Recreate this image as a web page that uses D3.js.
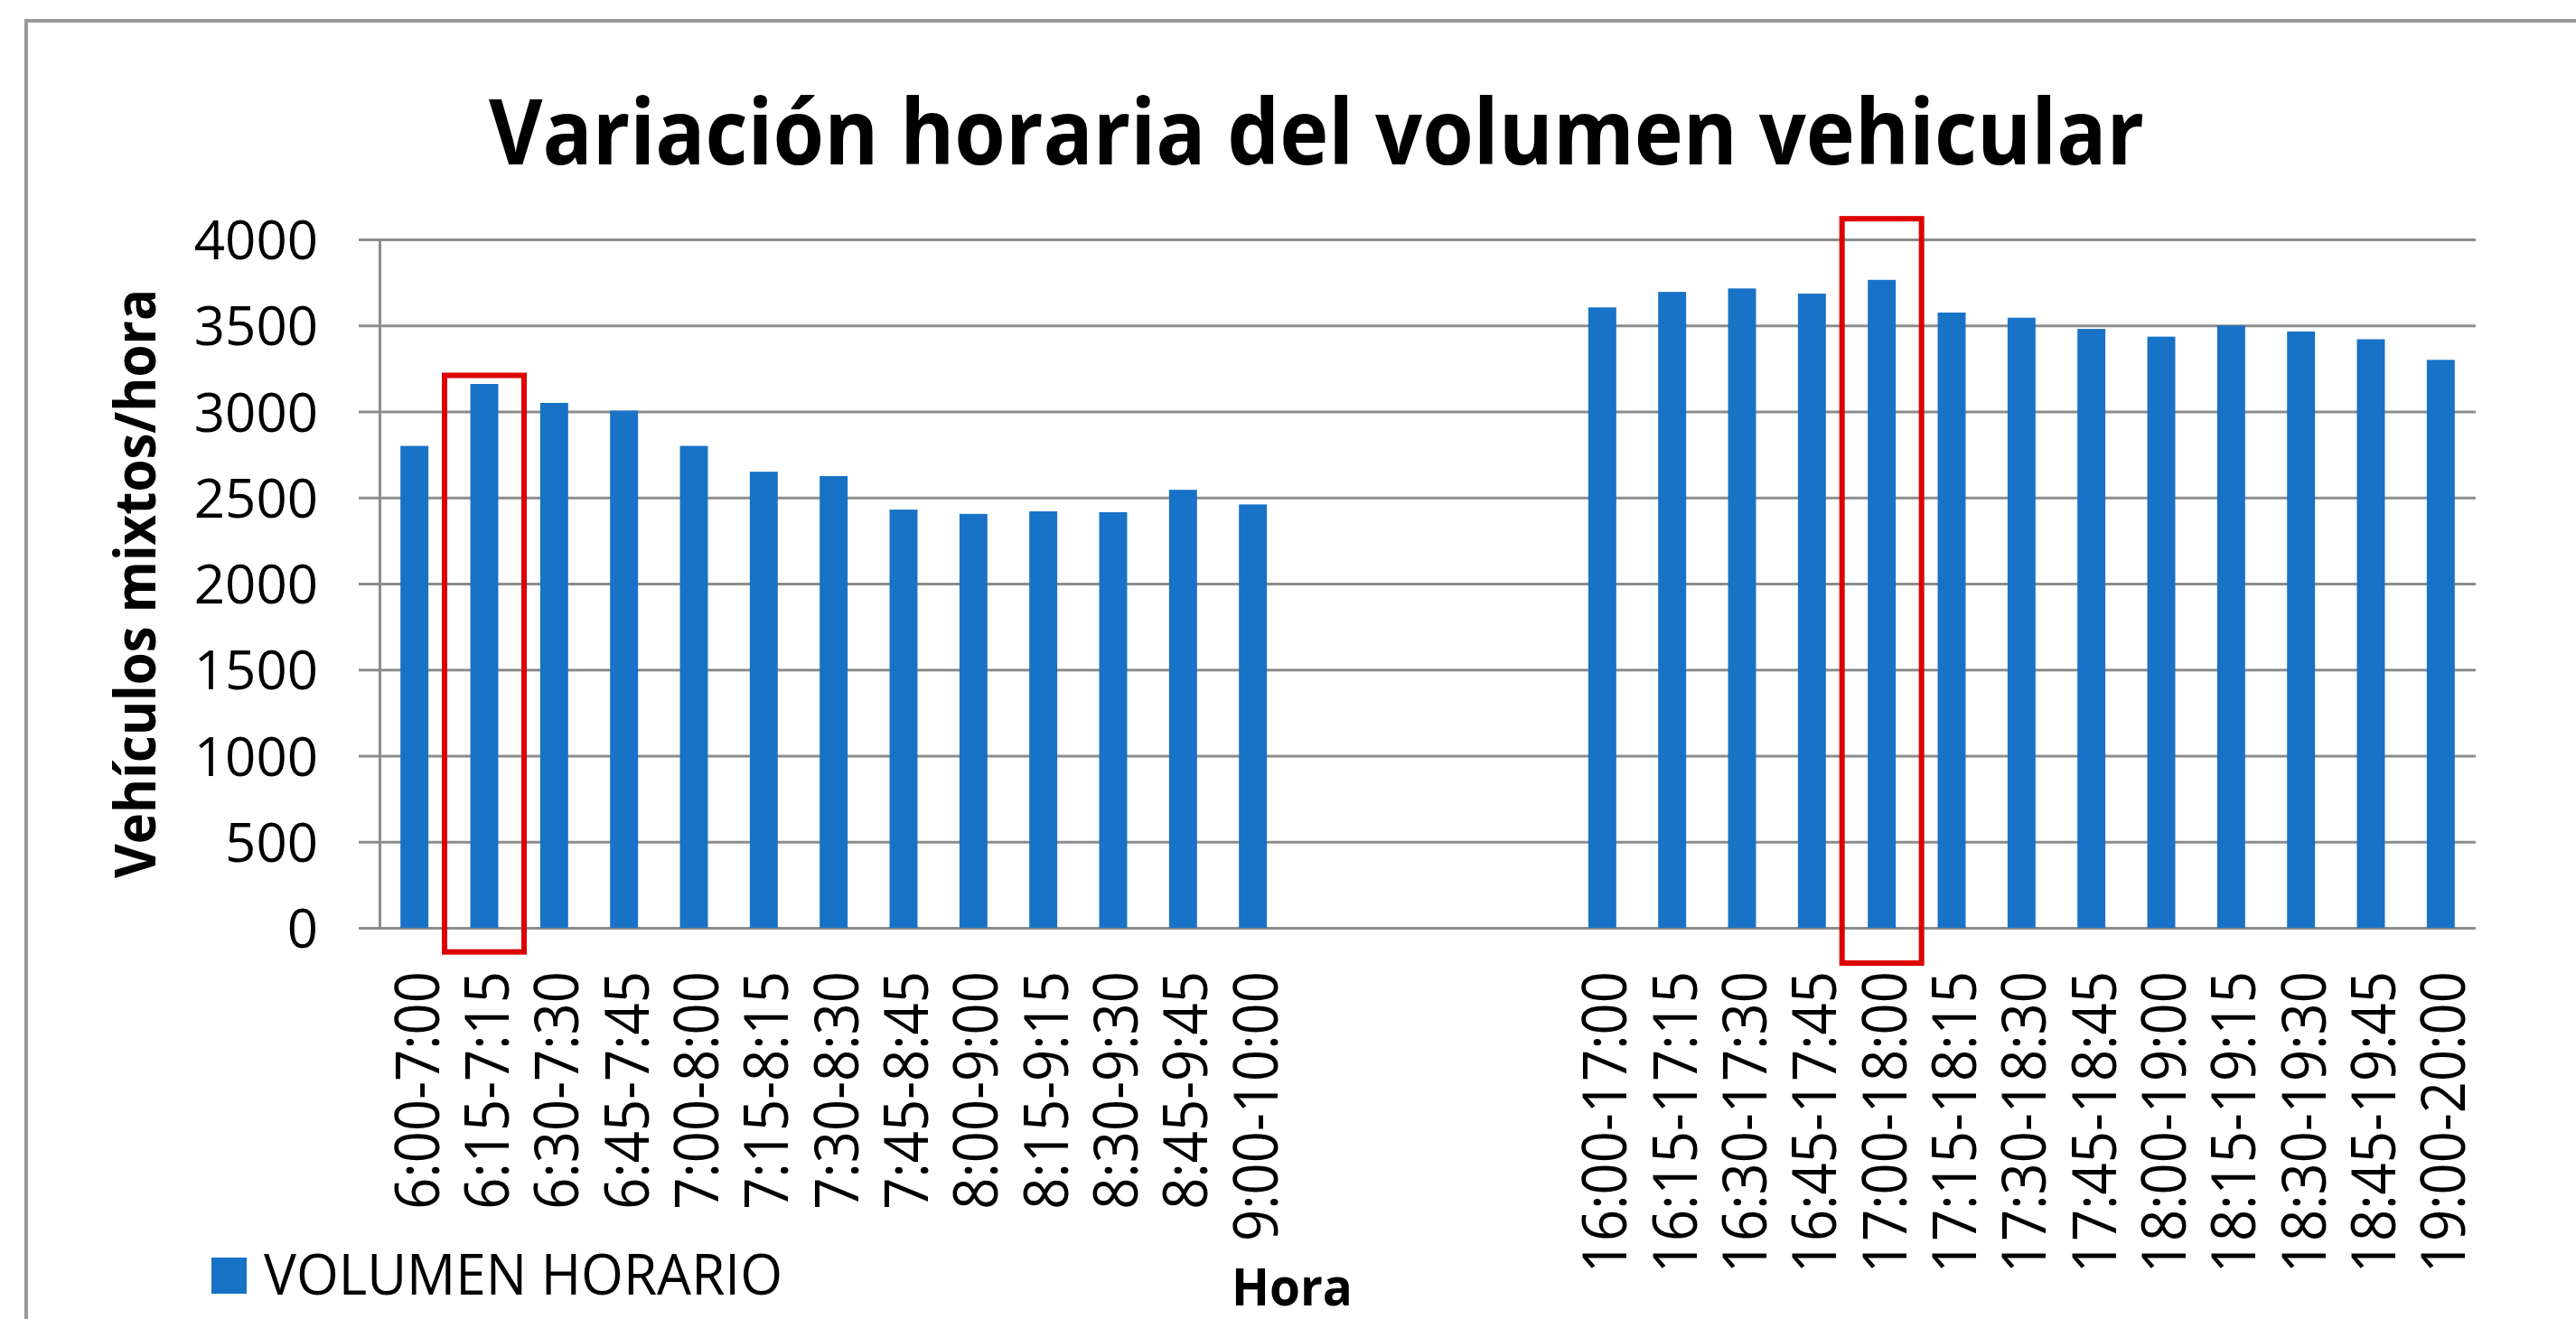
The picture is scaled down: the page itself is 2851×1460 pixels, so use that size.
<!DOCTYPE html>
<html>
<head>
<meta charset="utf-8">
<script src="https://cdn.jsdelivr.net/npm/d3@7"></script>
<style>
  body { margin: 0; background: #fff; }
  svg { display: block; font-family: "Open Sans", sans-serif; }
</style>
</head>
<body>
<div id="chart"></div>
<script>
// horas (4 huecos vacios entre la mañana y la tarde)
const horas = [
    '6:00-7:00', '6:15-7:15', '6:30-7:30', '6:45-7:45', '7:00-8:00', '7:15-8:15', '7:30-8:30',
    '7:45-8:45', '8:00-9:00', '8:15-9:15', '8:30-9:30', '8:45-9:45', '9:00-10:00',
    '', '', '', '',
    '16:00-17:00', '16:15-17:15', '16:30-17:30', '16:45-17:45', '17:00-18:00', '17:15-18:15',
    '17:30-18:30', '17:45-18:45', '18:00-19:00', '18:15-19:15', '18:30-19:30', '18:45-19:45',
    '19:00-20:00'
]
const volumen = [
    2800, 3160, 3050, 3005, 2800, 2650, 2625, 2430, 2405, 2420, 2415, 2545, 2460,
    null, null, null, null,
    3605, 3695, 3715, 3685, 3765, 3575, 3545, 3480, 3435, 3500, 3465, 3420, 3300
]
const yTicks = [0, 500, 1000, 1500, 2000, 2500, 3000, 3500, 4000]
// horas pico marcadas con recuadro rojo (limites en unidades del eje y)
const picos = [
    { hora: '6:15-7:15', arriba: 3210, abajo: -140 },
    { hora: '17:00-18:00', arriba: 4120, abajo: -205 }
]
const titulo = 'Variación horaria del volumen vehicular'
const tituloY = 'Vehículos mixtos/hora'
const tituloX = 'Hora'
const serie = 'VOLUMEN HORARIO'

const width = 2851
const height = 1460
const mLeft = 420, mRight = 2740, mTop = 265, mBottom = 1027
const gridColor = '#8c8c8c'
const barColor = '#1872c6'

const svg = d3.select('#chart').append('svg')
    .attr('width', width)
    .attr('height', height)
    .attr('viewBox', `0 0 ${width} ${height}`)

// marco
svg.append('rect')
    .attr('x', 29).attr('y', 23)
    .attr('width', width).attr('height', height)
    .attr('fill', 'none')
    .attr('stroke', '#999')
    .attr('stroke-width', 4)

const xScale = d3.scaleBand()
    .domain(d3.range(horas.length))
    .range([mLeft, mRight])
    .paddingInner(0.6)
    .paddingOuter(0.3)

const yScale = d3.scaleLinear()
    .domain([0, 4000])
    .range([mBottom, mTop])

// lineas de cuadricula
svg.append('g')
    .attr('transform', `translate(${mLeft - 23}, 0)`)
    .call(d3.axisLeft(yScale).tickValues(yTicks).tickSize(-(mRight - mLeft + 23)).tickFormat(''))
    .call(g => g.select('.domain').remove())
    .call(g => g.selectAll('line').attr('stroke', gridColor).attr('stroke-width', 3))

// eje vertical
svg.append('g')
    .attr('transform', `translate(${mLeft}, 0)`)
    .call(d3.axisLeft(yScale).tickValues([]).tickSizeOuter(0))
    .call(g => g.select('.domain').attr('stroke', gridColor).attr('stroke-width', 3))

// etiquetas eje y
svg.append('g')
    .attr('transform', `translate(${mLeft - 23}, 0)`)
    .call(d3.axisLeft(yScale).tickValues(yTicks).tickSize(0).tickPadding(45).tickFormat(d3.format('d')))
    .call(g => g.select('.domain').remove())
    .call(g => g.selectAll('text')
        .attr('font-family', '"Open Sans", sans-serif')
        .attr('font-size', 60)
        .attr('fill', '#000')
        .attr('dy', '0.36em'))

// barras
svg.append('g')
    .selectAll('rect')
    .data(volumen.map((v, i) => ({ i, v })).filter(d => d.v !== null))
    .join('rect')
    .attr('x', d => xScale(d.i))
    .attr('width', xScale.bandwidth())
    .attr('y', d => yScale(d.v))
    .attr('height', d => yScale(0) - yScale(d.v))
    .attr('fill', barColor)

// etiquetas eje x
const xAxis = svg.append('g')
    .attr('transform', `translate(0, ${mBottom})`)
    .call(d3.axisBottom(xScale).tickSize(0).tickFormat(i => horas[i]))
    .call(g => g.select('.domain').remove())
xAxis.selectAll('text')
    .attr('font-family', '"Open Sans", sans-serif')
    .attr('font-size', 67)
    .attr('fill', '#000')
    .attr('transform', 'rotate(-90)')
    .attr('text-anchor', 'end')
    .attr('x', -48)
    .attr('y', 3)
    .attr('dy', '0.36em')
    .each(function () {
        const len = this.getComputedTextLength()
        if (len > 0) d3.select(this).attr('textLength', len * 0.92).attr('lengthAdjust', 'spacingAndGlyphs')
    })

// recuadros rojos
svg.append('g')
    .selectAll('rect')
    .data(picos)
    .join('rect')
    .attr('x', d => xScale(horas.indexOf(d.hora)) + xScale.bandwidth() / 2 - 44)
    .attr('width', 88)
    .attr('y', d => yScale(d.arriba))
    .attr('height', d => yScale(d.abajo) - yScale(d.arriba))
    .attr('fill', 'none')
    .attr('stroke', '#dd0000')
    .attr('stroke-width', 6)

// titulo
svg.append('text')
    .attr('x', 1457)
    .attr('y', 182)
    .attr('text-anchor', 'middle')
    .attr('font-size', 101)
    .attr('font-weight', 'bold')
    .attr('textLength', 1832)
    .attr('lengthAdjust', 'spacingAndGlyphs')
    .text(titulo)

// titulo eje y
svg.append('text')
    .attr('transform', `translate(172, ${(mTop + mBottom) / 2}) rotate(-90)`)
    .attr('text-anchor', 'middle')
    .attr('font-size', 62)
    .attr('font-weight', 'bold')
    .attr('textLength', 652)
    .attr('lengthAdjust', 'spacingAndGlyphs')
    .text(tituloY)

// titulo eje x
svg.append('text')
    .attr('x', 1430)
    .attr('y', 1445)
    .attr('text-anchor', 'middle')
    .attr('font-size', 57)
    .attr('font-weight', 'bold')
    .attr('textLength', 134)
    .attr('lengthAdjust', 'spacingAndGlyphs')
    .text(tituloX)

// leyenda
const legend = svg.append('g').attr('transform', 'translate(234, 1392)')
legend.append('rect')
    .attr('width', 39).attr('height', 40)
    .attr('fill', barColor)
legend.append('text')
    .attr('x', 58)
    .attr('y', 41)
    .attr('font-size', 63)
    .attr('textLength', 574)
    .attr('lengthAdjust', 'spacingAndGlyphs')
    .text(serie)
</script>
</body>
</html>
